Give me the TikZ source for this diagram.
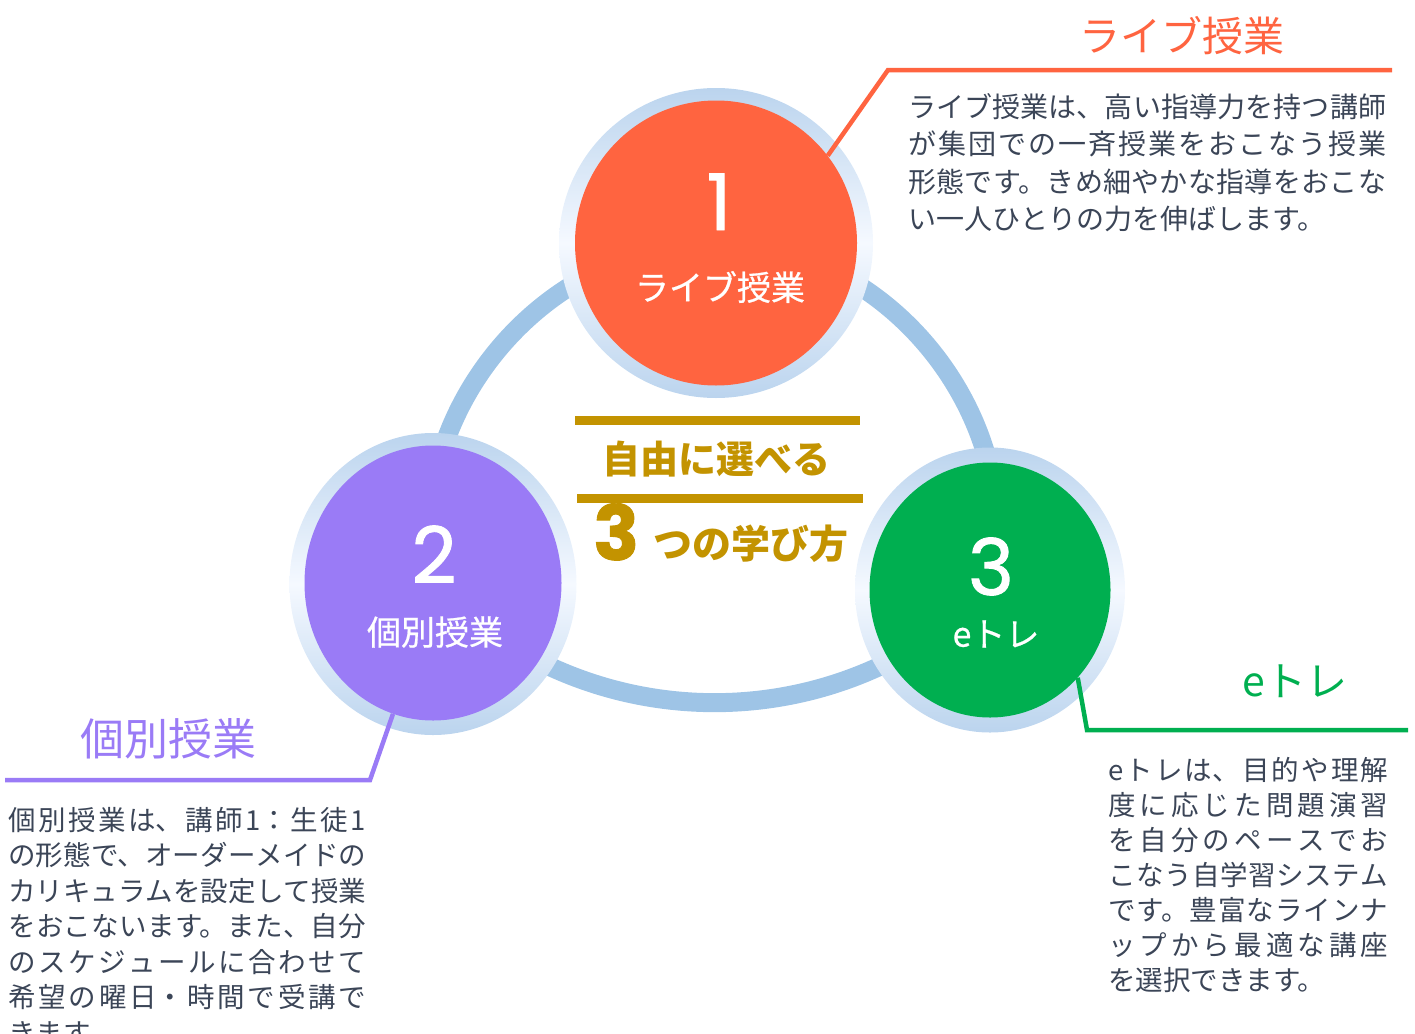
\documentclass[tikz,border=0pt]{standalone}
\usepackage{fontspec}
\setmainfont{Noto Sans CJK JP}
\newfontfamily\numfont{Poppins}[FakeBold=1.2]
\usepackage{xcolor}
\usepackage{tikz}
\usetikzlibrary{shapes.geometric, positioning, calc}

\XeTeXlinebreaklocale "ja"
\XeTeXlinebreakskip=0pt plus 4pt

\definecolor{liveorange}{HTML}{FF6440}
\definecolor{kobetsupurple}{HTML}{9A7BF6}
\definecolor{etregreen}{HTML}{00AF50}
\definecolor{titlegold}{HTML}{C39300}
\definecolor{ringblue}{HTML}{9EC4E6}
\definecolor{halotop}{HTML}{BBD4EE}
\definecolor{halomid}{HTML}{F5F9FF}
\definecolor{bodygray}{HTML}{3B4557}

\begin{document}
\begin{tikzpicture}[
        x=1pt, y=-1pt,
        halo/.style={ellipse, inner sep=0pt, top color=halotop, bottom color=halotop, middle color=halomid},
        disc/.style={ellipse, inner sep=0pt},
        ring/.style={ringblue, line width=19pt},
        numlabel/.style={text=white, font=\numfont\fontsize{78}{78}\selectfont, anchor=base, inner sep=0pt},
        namelabel/.style={text=white, font=\fontsize{34}{34}\selectfont\addfontfeature{FakeBold=0.6}, inner sep=0pt},
        heading/.style={font=\fontsize{41}{41}\selectfont, inner sep=0pt},
        leader/.style={line width=4.5pt},
        body/.style={text=bodygray, align=justify, anchor=north west, inner sep=0pt},
        goldbar/.style={titlegold, line width=9pt}
      ]
      \useasboundingbox (0,0) rectangle (1415,1033);

      % centres of the three circles
      \coordinate (m1) at (716,243);
      \coordinate (m2) at (433,584);
      \coordinate (m3) at (990,590);

      % ring behind the circles
      \draw [ring] (m1) to[bend right=50] (m2) to[bend right=45] (m3) to[bend right=52] (m1);

      % halos and discs
      \node (h1) [halo, minimum width=314pt, minimum height=310pt] at (m1) {};
      \node (h2) [halo, minimum width=287pt, minimum height=302pt] at (m2) {};
      \node (h3) [halo, minimum width=270pt, minimum height=285pt] at (m3) {};
      \node (c1) [disc, fill=liveorange, minimum width=282pt, minimum height=285pt] at (m1) {};
      \node (c2) [disc, fill=kobetsupurple, minimum width=257pt, minimum height=275pt] at (433,583) {};
      \node (c3) [disc, fill=etregreen, minimum width=241pt, minimum height=255pt] at (m3) {};

      % texts inside the circles
      \node (d1) [numlabel] at (719,230) {1};
      \node (t1) [namelabel] at (720,287) {ライブ授業};
      \node (d2) [numlabel] at (434,583) {2};
      \node (t2) [namelabel] at (435,632) {個別授業};
      \node (d3) [numlabel] at (991,595) {3};
      \node (t3) [namelabel] at (996,634) {eトレ};

      % leader lines
      \coordinate (k1) at (888,70);
      \coordinate (e1) at (1392,70);
      \coordinate (k2) at (370,780);
      \coordinate (e2) at (5,780);
      \coordinate (k3) at (1087,730);
      \coordinate (e3) at (1408,730);
      \draw [leader, liveorange] (c1.38) -- (k1) -- (e1);
      \draw [leader, kobetsupurple] (c2.253) -- (k2) -- (e2);
      \draw [leader, etregreen] (c3.315) -- (k3) -- (e3);

      % headings
      \node (live) [heading, text=liveorange] at (1182,36) {ライブ授業};
      \node (kobetsu) [heading, text=kobetsupurple, font=\fontsize{44}{44}\selectfont] at (168,739) {個別授業};
      \node (etore) [heading, text=etregreen] at (1295,681) {eトレ};

      % descriptions
      \node (livetext) [body, text width=478pt, font=\fontsize{28}{37.5}\selectfont] at (908,93) {%
ライブ授業は、高い指導力を持つ講師\linebreak
が集団での一斉授業をおこなう授業\linebreak
形態です。きめ細やかな指導をおこな\linebreak
い一人ひとりの力を伸ばします。};
      \node (kobetsutext) [body, text width=358pt, font=\fontsize{27.5}{35.5}\selectfont] at (8,807) {%
個別授業は、講師1：生徒1\linebreak
の形態で、オーダーメイドの\linebreak
カリキュラムを設定して授業\linebreak
をおこないます。また、自分\linebreak
のスケジュールに合わせて\linebreak
希望の曜日・時間で受講で\linebreak
きます。};
      \node (etoretext) [body, text width=280pt, font=\fontsize{27.5}{35}\selectfont] at (1108,757) {%
eトレは、目的や理解\linebreak
度に応じた問題演習\linebreak
を自分のペースでお\linebreak
こなう自学習システム\linebreak
です。豊富なラインナ\linebreak
ップから最適な講座\linebreak
を選択できます。};

      % centre title
      \coordinate (g1a) at (575,420);
      \coordinate (g1b) at (860,420);
      \coordinate (g2a) at (577,498);
      \coordinate (g2b) at (863,498);
      \draw [goldbar] (g1a) -- (g1b);
      \draw [goldbar] (g2a) -- (g2b);
      \node (free) [text=titlegold, font=\bfseries\fontsize{38}{38}\selectfont, inner sep=0pt] at (716,459) {自由に選べる};
      \node (three) [anchor=base west, text=titlegold, font=\numfont\bfseries\fontsize{76}{76}\selectfont, inner sep=0pt] at (593,560) {3};
      \node (ways) [anchor=base west, text=titlegold, font=\bfseries\fontsize{39}{39}\selectfont, inner sep=0pt] at (653,558) {つの学び方};

    \end{tikzpicture}
\end{document}
